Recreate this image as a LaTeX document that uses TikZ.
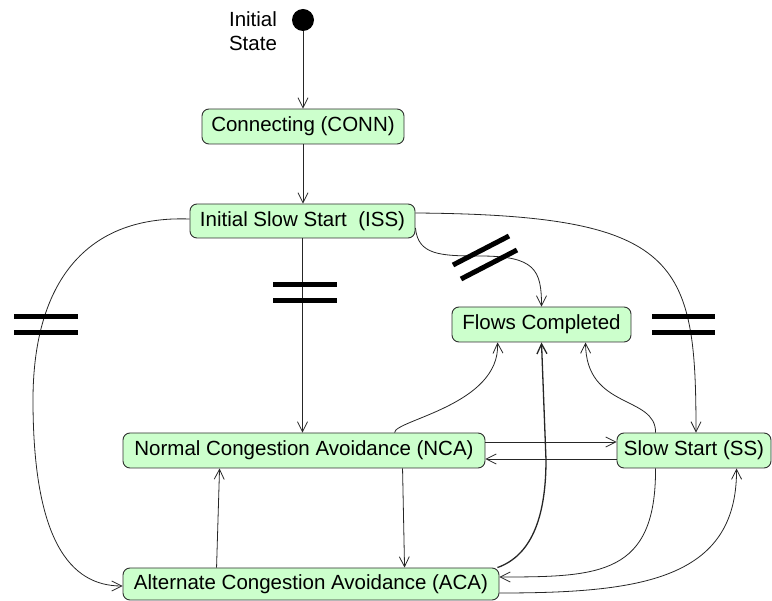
\documentclass[tikz,border=0pt]{standalone}
\usepackage{fontspec}
\setmainfont{Liberation Sans}
\usetikzlibrary{arrows.meta,calc}
\definecolor{statefill}{HTML}{CCFFCC}
\definecolor{stateline}{HTML}{303030}
\begin{document}
\begin{tikzpicture}[x=1pt,y=-1pt,
  every node/.style={font=\fontsize{20.5}{24}\selectfont},
  state/.style={draw=stateline,fill=statefill,rounded corners=7pt,line width=0.9pt,
    inner sep=0pt,minimum height=35pt},
  flow/.style={line width=0.8pt,draw=black!85,-{Straight Barb[length=10pt,width=10pt]}},
  cut/.style={line width=5pt,draw=black}]
\useasboundingbox (0,0) rectangle (772,601);

% states
\node[fill=black,circle,minimum size=22pt,inner sep=0pt] (init) at (303,20) {};
\node[align=center,inner sep=0pt] (initlbl) at (253,31) {Initial\\State};
\node[state,minimum width=202pt] (conn) at (303,126.5) {Connecting (CONN)};
\node[state,minimum width=225pt,minimum height=34pt] (iss) at (302.5,221) {Initial Slow Start\ \ (ISS)};
\node[state,minimum width=179pt] (flows) at (541.5,324.5) {Flows Completed};
\node[state,minimum width=362pt] (nca) at (304,450.5) {Normal Congestion Avoidance (NCA)};
\node[state,minimum width=154pt] (ss) at (694,450.5) {Slow Start (SS)};
\node[state,minimum width=376pt,minimum height=32pt] (aca) at (311,584) {Alternate Congestion Avoidance (ACA)};

% transitions
\draw[flow] (init.south) -- (conn.north);
\draw[flow] (conn.south) -- (conn.south |- iss.north);
\draw[flow] (iss.south) -- (iss.south |- nca.north);

\draw[flow] ($(iss.west)+(0,-2)$) .. controls (80,215) and (33,290) .. (33,400)
  .. controls (33,540) and (70,586) .. ($(aca.west)+(0,2)$);

\draw[flow] ($(iss.east)+(0,7)$) .. controls (418,255) and (440,256) .. (480,256)
  .. controls (535,256) and (541.5,270) .. (flows.north);

\draw[flow] ($(iss.east)+(0,-8)$) .. controls (680,215) and (696,260) .. ($(ss.north)+(2,0)$);

\draw[flow] ($(nca.north west)+(272,0)$) .. controls (395,420) and (500,405)
  .. ($(flows.south west)+(46,0)$);

\draw[flow,line width=1.3pt] ($(aca.north east)+(-2,0)$) .. controls (530,556) and (546,520)
  .. (546,460) -- (flows.south);

\draw[flow] ($(ss.north west)+(39,0)$) .. controls (656,395) and (586,410)
  .. ($(flows.south west)+(134,0)$);

\draw[flow] ($(nca.east)+(0,-8.5)$) -- ($(ss.west)+(0,-8.5)$);
\draw[flow] ($(ss.west)+(0,8.5)$) -- ($(nca.east)+(0,8.5)$);

\draw[flow] ($(nca.south west)+(280,0)$) -- ($(aca.north west)+(282,0)$);
\draw[flow] ($(aca.north west)+(94,0)$) -- ($(nca.south west)+(97,0)$);

\draw[flow] ($(ss.south west)+(39,0)$) .. controls (656,575) and (600,577)
  .. ($(aca.east)+(0,-7)$);
\draw[flow] ($(aca.east)+(0,9)$) .. controls (640,593) and (737,580)
  .. ($(ss.south west)+(120,0)$);

% cut marks
\draw[cut] (14,316.7) -- (78,316.7);
\draw[cut] (14,332.7) -- (78,332.7);
\draw[cut] (273,284.3) -- (337,284.3);
\draw[cut] (273,300.3) -- (337,300.3);
\draw[cut] (652,316.7) -- (715,316.7);
\draw[cut] (652,332.7) -- (715,332.7);
\draw[cut] (453,265) -- (509,236);
\draw[cut] (461,279) -- (517,250);
\end{tikzpicture}
\end{document}
